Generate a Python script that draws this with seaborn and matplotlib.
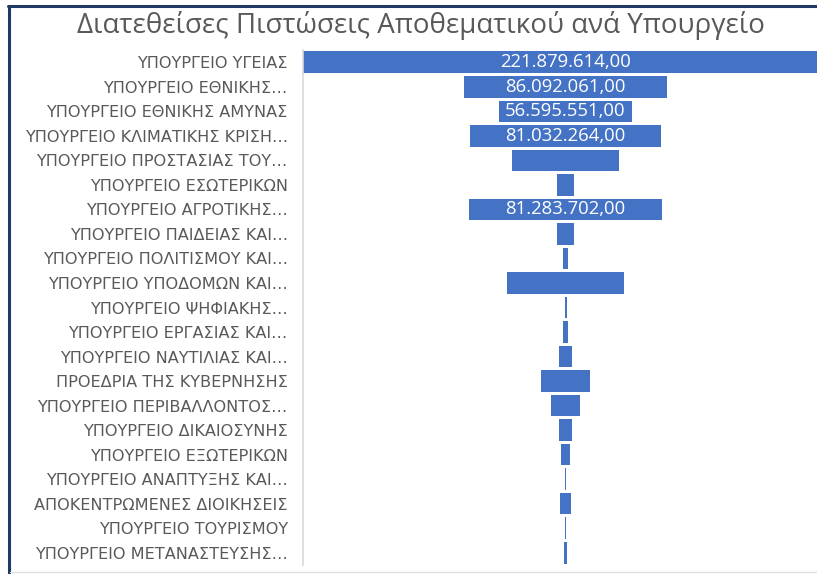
import matplotlib
matplotlib.use("Agg")
import matplotlib.pyplot as plt
import seaborn as sns
import pandas as pd
from matplotlib.lines import Line2D

# ministries (labels as truncated in the original chart)
ministries = [
    "ΥΠΟΥΡΓΕΙΟ ΥΓΕΙΑΣ",
    "ΥΠΟΥΡΓΕΙΟ ΕΘΝΙΚΗΣ…",
    "ΥΠΟΥΡΓΕΙΟ ΕΘΝΙΚΗΣ ΑΜΥΝΑΣ",
    "ΥΠΟΥΡΓΕΙΟ ΚΛΙΜΑΤΙΚΗΣ ΚΡΙΣΗ…",
    "ΥΠΟΥΡΓΕΙΟ ΠΡΟΣΤΑΣΙΑΣ ΤΟΥ…",
    "ΥΠΟΥΡΓΕΙΟ ΕΣΩΤΕΡΙΚΩΝ",
    "ΥΠΟΥΡΓΕΙΟ ΑΓΡΟΤΙΚΗΣ…",
    "ΥΠΟΥΡΓΕΙΟ ΠΑΙΔΕΙΑΣ ΚΑΙ…",
    "ΥΠΟΥΡΓΕΙΟ ΠΟΛΙΤΙΣΜΟΥ ΚΑΙ…",
    "ΥΠΟΥΡΓΕΙΟ ΥΠΟΔΟΜΩΝ ΚΑΙ…",
    "ΥΠΟΥΡΓΕΙΟ ΨΗΦΙΑΚΗΣ…",
    "ΥΠΟΥΡΓΕΙΟ ΕΡΓΑΣΙΑΣ ΚΑΙ…",
    "ΥΠΟΥΡΓΕΙΟ ΝΑΥΤΙΛΙΑΣ ΚΑΙ…",
    "ΠΡΟΕΔΡΙΑ ΤΗΣ ΚΥΒΕΡΝΗΣΗΣ",
    "ΥΠΟΥΡΓΕΙΟ ΠΕΡΙΒΑΛΛΟΝΤΟΣ…",
    "ΥΠΟΥΡΓΕΙΟ ΔΙΚΑΙΟΣΥΝΗΣ",
    "ΥΠΟΥΡΓΕΙΟ ΕΞΩΤΕΡΙΚΩΝ",
    "ΥΠΟΥΡΓΕΙΟ ΑΝΑΠΤΥΞΗΣ ΚΑΙ…",
    "ΑΠΟΚΕΝΤΡΩΜΕΝΕΣ ΔΙΟΙΚΗΣΕΙΣ",
    "ΥΠΟΥΡΓΕΙΟ ΤΟΥΡΙΣΜΟΥ",
    "ΥΠΟΥΡΓΕΙΟ ΜΕΤΑΝΑΣΤΕΥΣΗΣ…",
]

# available credits (EUR); unlabelled ones
credits = [
    221879614.00, 86092061.00, 56595551.00, 81032264.00, 45000000.00,
    6800000.00, 81283702.00, 7200000.00, 2100000.00, 49800000.00,
    850000.00, 1900000.00, 5900000.00, 20300000.00, 12200000.00,
    5500000.00, 3800000.00, 800000.00, 4600000.00, 800000.00, 900000.00,
]

df = pd.DataFrame({"ministry": ministries, "credits": credits})


def greek_fmt(v):
    return f"{v:,.2f}".replace(",", "X").replace(".", ",").replace("X", ".")


sns.set_theme(style="white")
plt.rcParams["font.family"] = ["Open Sans", "DejaVu Sans"]

fig = plt.figure(figsize=(8.17, 5.74), dpi=100)
ax = fig.add_axes([303 / 817, 1 - 565 / 574, 1 - 303 / 817, (565 - 50) / 574])

sns.barplot(data=df, x="credits", y="ministry", orient="h", color="#4472C4",
            saturation=1, width=0.88, linewidth=0, ax=ax)

# funnel: centre each bar around zero
for p in ax.patches:
    p.set_x(-p.get_width() / 2)

vmax = max(credits)
# the widest bar runs slightly past the right edge in the original
ax.set_xlim(-vmax / 2, vmax / 2 * 0.958)
ax.set_ylim(len(ministries) - 0.5, -0.5)

# value labels only where they fit inside the bar
fig.canvas.draw()
renderer = fig.canvas.get_renderer()
for p, v in zip(ax.patches, credits):
    t = ax.text(0, p.get_y() + p.get_height() / 2, greek_fmt(v), ha="center",
                va="center", color="white", fontsize=13.3)
    tw = t.get_window_extent(renderer).width
    bw = ax.transData.transform((p.get_width(), 0))[0] - ax.transData.transform((0, 0))[0]
    if tw > bw - 6:
        t.remove()

ax.set_xlabel("")
ax.set_ylabel("")
ax.set_xticks([])
ax.tick_params(axis="y", length=0, pad=11, labelsize=11.6, labelcolor="#595959")
for lbl in ax.get_yticklabels():
    lbl.set_fontfamily(["DejaVu Sans"])
for s in ["top", "right", "bottom"]:
    ax.spines[s].set_visible(False)
ax.spines["left"].set_color("#D9D9D9")
ax.spines["left"].set_linewidth(1.2)

fig.text(421 / 817, 1 - 25 / 574, "Διατεθείσες Πιστώσεις Αποθεματικού ανά Υπουργείο",
         ha="center", va="center", fontsize=20, color="#595959")

# outer frame lines from the screenshot
fig.add_artist(Line2D([8 / 817, 1], [1 - 6 / 574] * 2, color="#1F3864", lw=2.2))
fig.add_artist(Line2D([9 / 817] * 2, [0, 1 - 6 / 574], color="#1F3864", lw=2.2))
fig.add_artist(Line2D([10 / 817, 1], [1 - 572 / 574] * 2, color="#E0E0E0", lw=1))

fig.savefig("out.png", dpi=100)
